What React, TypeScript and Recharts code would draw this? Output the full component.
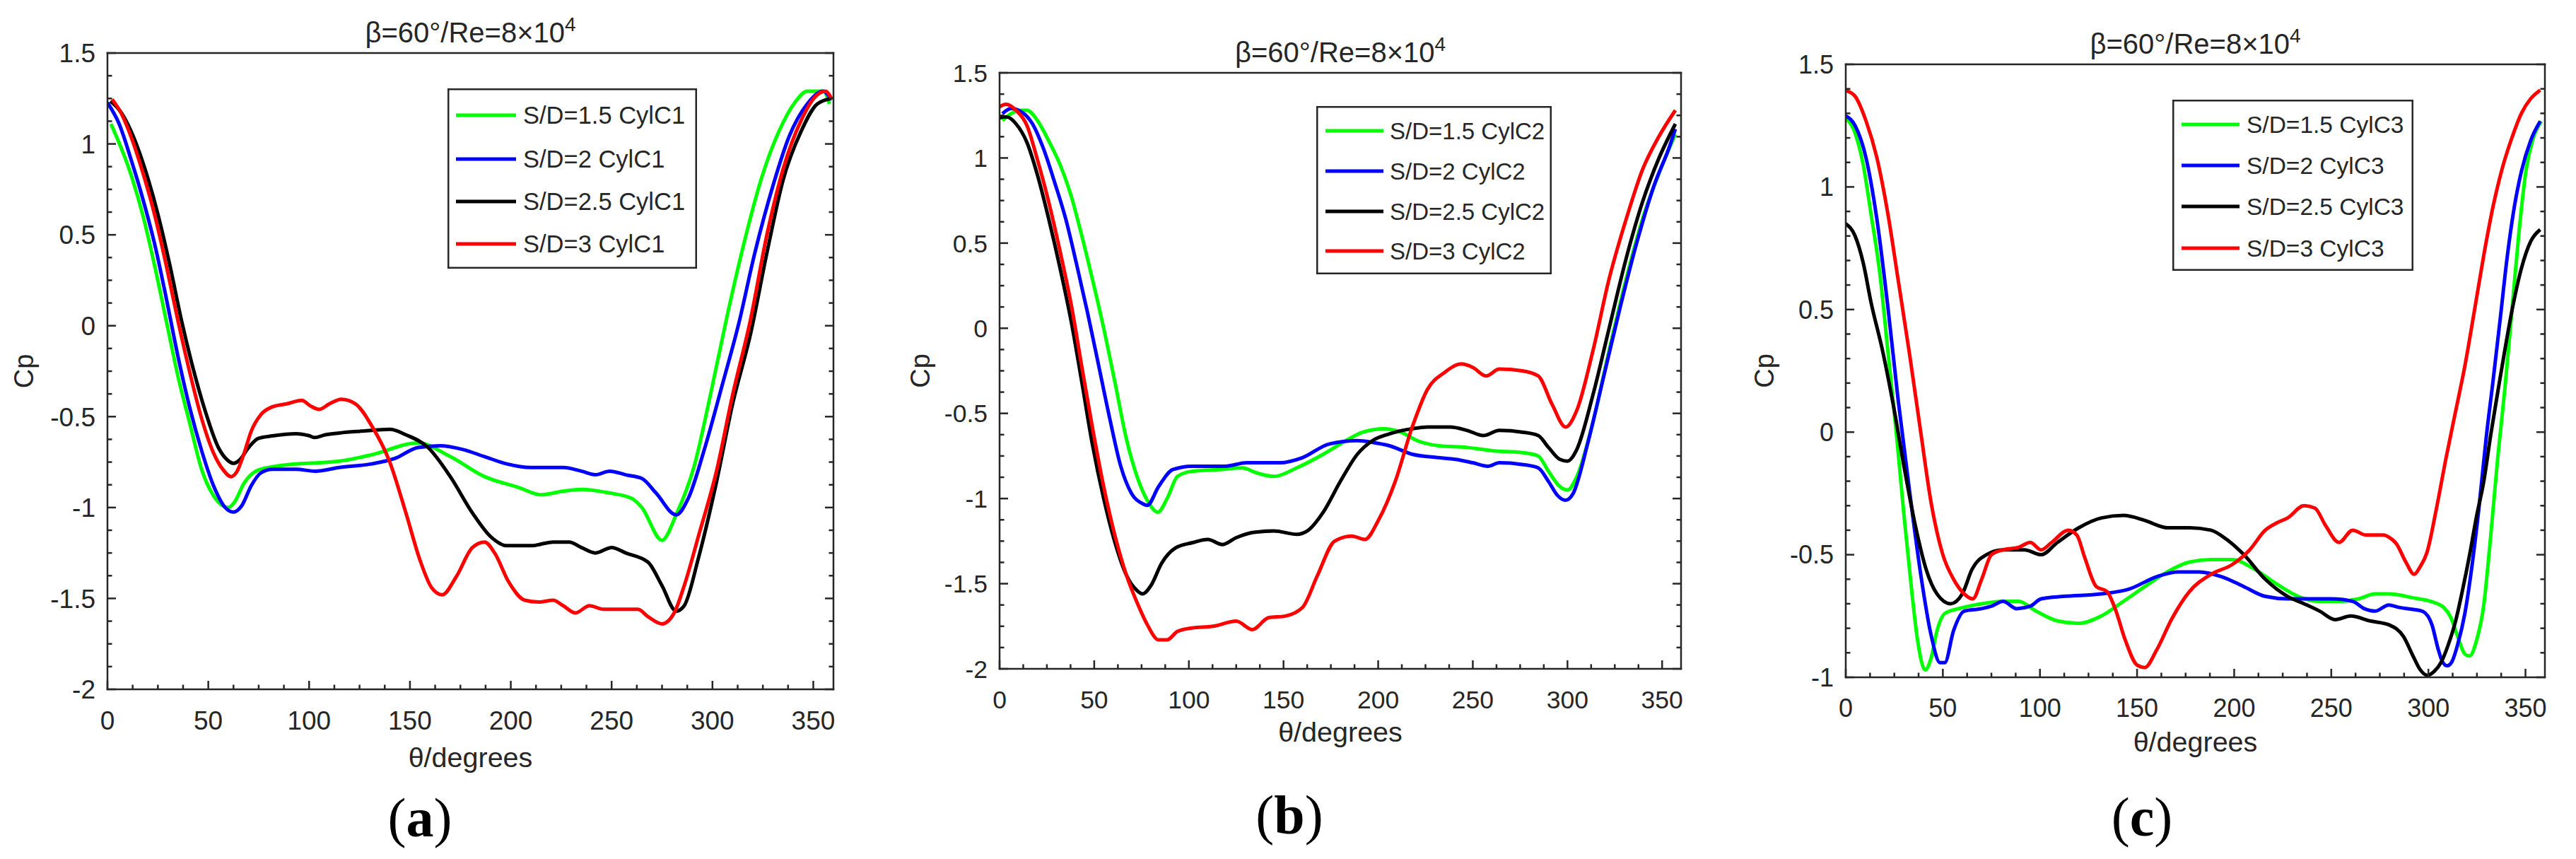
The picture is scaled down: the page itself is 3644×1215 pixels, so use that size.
import React from 'react';
import { LineChart, Line, XAxis, YAxis, Legend } from 'recharts';

type Pt = [number, number];

const FONT = '"Liberation Sans", Arial, Helvetica, sans-serif';
const SERIF = '"Liberation Serif", "Times New Roman", serif';
const AX = '#262626';
const COLORS = ['#00ff00', '#0000ff', '#000000', '#ff0000'];

// ---------- tick lists ----------
const X_TICKS = [0, 12.5, 25, 37.5, 50, 62.5, 75, 87.5, 100, 112.5, 125, 137.5, 150, 162.5, 175, 187.5, 200, 212.5, 225, 237.5, 250, 262.5, 275, 287.5, 300, 312.5, 325, 337.5, 350];
const X_MAJOR = [0, 50, 100, 150, 200, 250, 300, 350];
const Y_TICKS_AB = [-2, -1.875, -1.75, -1.625, -1.5, -1.375, -1.25, -1.125, -1, -0.875, -0.75, -0.625, -0.5, -0.375, -0.25, -0.125, 0, 0.125, 0.25, 0.375, 0.5, 0.625, 0.75, 0.875, 1, 1.125, 1.25, 1.375, 1.5];
const Y_MAJOR_AB = [-2, -1.5, -1, -0.5, 0, 0.5, 1, 1.5];
const Y_TICKS_C = [-1, -0.9, -0.8, -0.7, -0.6, -0.5, -0.4, -0.3, -0.2, -0.1, 0, 0.1, 0.2, 0.3, 0.4, 0.5, 0.6, 0.7, 0.8, 0.9, 1, 1.1, 1.2, 1.3, 1.4, 1.5];
const Y_MAJOR_C = [-1, -0.5, 0, 0.5, 1, 1.5];

// ---------- names ----------
const NAMES_A = ['S/D=1.5 CylC1', 'S/D=2 CylC1', 'S/D=2.5 CylC1', 'S/D=3 CylC1'];
const NAMES_B = ['S/D=1.5 CylC2', 'S/D=2 CylC2', 'S/D=2.5 CylC2', 'S/D=3 CylC2'];
const NAMES_C = ['S/D=1.5 CylC3', 'S/D=2 CylC3', 'S/D=2.5 CylC3', 'S/D=3 CylC3'];
const TITLE = 'β=60°/Re=8×10';
const TITLE_EXP = '4';

// ---------- panel (a) data: [theta, Cp] ----------
const A_SD15: Pt[] = [[1.75, 1.11], [11.7, 0.83], [17.5, 0.61], [23.4, 0.33], [29.2, 0.025], [35, -0.28], [40.9, -0.54], [46.7, -0.79], [52.6, -0.935], [57.2, -0.99], [60, -1.0], [63, -0.97], [67.8, -0.865], [73.6, -0.8], [81.8, -0.776], [93.5, -0.76], [105, -0.754], [115, -0.745], [131, -0.71], [154, -0.645], [170, -0.72], [187, -0.83], [204, -0.89], [215, -0.93], [226, -0.91], [235, -0.9], [249, -0.92], [260, -0.95], [265, -1.0], [275, -1.18], [282, -1.04], [291, -0.77], [299, -0.38], [307, 0.04], [316, 0.47], [324, 0.8], [333, 1.07], [341, 1.23], [347, 1.29], [355, 1.29], [358, 1.22]];
const A_SD2: Pt[] = [[0, 1.227], [5.8, 1.11], [11.7, 0.915], [17.5, 0.7], [23.4, 0.45], [29.2, 0.15], [35, -0.17], [40.9, -0.455], [46.7, -0.687], [52.6, -0.88], [58.4, -1.0], [62.5, -1.025], [66.6, -0.99], [71.3, -0.88], [76, -0.81], [81.8, -0.79], [93.5, -0.79], [103, -0.8], [115, -0.78], [131, -0.76], [142.5, -0.73], [154, -0.67], [165, -0.66], [176, -0.68], [187, -0.72], [198, -0.76], [210, -0.78], [226, -0.78], [235, -0.8], [242, -0.82], [249, -0.8], [257, -0.82], [265, -0.84], [272, -0.92], [282, -1.04], [288, -0.95], [296, -0.68], [305, -0.32], [313, 0.01], [321, 0.4], [330, 0.77], [338, 1.04], [347, 1.22], [355, 1.29], [358, 1.26]];
const A_SD25: Pt[] = [[1.5, 1.235], [7, 1.17], [11.7, 1.07], [17.5, 0.9], [25.1, 0.61], [31, 0.33], [36.8, 0.025], [42.6, -0.24], [48.5, -0.47], [55, -0.67], [59.6, -0.74], [62.5, -0.757], [65.4, -0.74], [70, -0.67], [74.8, -0.62], [81.8, -0.606], [93.5, -0.594], [100, -0.605], [102.8, -0.615], [108, -0.6], [115, -0.59], [126, -0.58], [140, -0.57], [148, -0.6], [159, -0.67], [170, -0.83], [181, -1.03], [190, -1.16], [198, -1.21], [210, -1.21], [221, -1.19], [229, -1.19], [235, -1.22], [242, -1.25], [250, -1.22], [257, -1.25], [268, -1.3], [275, -1.43], [282, -1.57], [286, -1.54], [293, -1.28], [302, -0.86], [310, -0.43], [319, -0.04], [327, 0.4], [335, 0.8], [344, 1.07], [352, 1.22], [359, 1.25]];
const A_SD3: Pt[] = [[2.3, 1.245], [7, 1.165], [11.7, 1.04], [17.5, 0.844], [23.4, 0.61], [29.2, 0.33], [35, 0.025], [40.9, -0.26], [46.7, -0.51], [52.6, -0.7], [57.2, -0.79], [61.3, -0.83], [64.3, -0.8], [67.8, -0.7], [71.3, -0.58], [76, -0.49], [81.8, -0.446], [88.8, -0.43], [96.4, -0.41], [100.5, -0.44], [105, -0.46], [110, -0.43], [116, -0.405], [123, -0.43], [131, -0.55], [140, -0.75], [148, -1.03], [155, -1.29], [160.7, -1.44], [166, -1.48], [173, -1.38], [181, -1.22], [187, -1.19], [192, -1.25], [199, -1.41], [207, -1.51], [214, -1.52], [221, -1.51], [226, -1.54], [232, -1.58], [239, -1.54], [246, -1.56], [254, -1.56], [263, -1.56], [268, -1.6], [275, -1.64], [281, -1.58], [286, -1.43], [293, -1.16], [302, -0.8], [310, -0.38], [319, 0.04], [327, 0.5], [335, 0.86], [344, 1.13], [351, 1.26], [356, 1.29], [359, 1.25]];

// ---------- panel (b) data ----------
const B_SD15: Pt[] = [[1.5, 1.22], [6, 1.26], [11.6, 1.28], [14.5, 1.28], [20, 1.22], [26, 1.1], [32, 0.96], [38, 0.77], [43.5, 0.54], [49, 0.29], [55, 0.0], [61, -0.32], [67, -0.65], [72.6, -0.87], [78, -1.01], [83.6, -1.08], [88.5, -1.0], [94, -0.87], [101.6, -0.84], [116, -0.83], [128, -0.82], [136, -0.85], [145, -0.87], [157, -0.82], [171, -0.74], [183, -0.66], [192, -0.61], [203, -0.59], [212, -0.61], [220.6, -0.66], [232, -0.69], [247, -0.7], [261, -0.72], [276, -0.73], [284.5, -0.75], [290, -0.84], [296, -0.93], [300, -0.95], [305, -0.87], [313.5, -0.55], [322, -0.13], [331, 0.29], [339.6, 0.64], [348, 0.9], [357, 1.14]];
const B_SD2: Pt[] = [[1.5, 1.26], [6, 1.29], [11.6, 1.27], [17.4, 1.2], [23, 1.06], [29, 0.86], [35, 0.64], [40.6, 0.38], [46.5, 0.09], [52, -0.2], [58, -0.52], [64, -0.81], [69.7, -0.97], [75.5, -1.03], [78, -1.04], [84, -0.93], [91.5, -0.83], [101.6, -0.81], [119, -0.81], [130.6, -0.79], [148, -0.79], [160, -0.76], [174, -0.68], [189, -0.66], [197, -0.67], [206, -0.69], [218, -0.74], [232, -0.76], [241, -0.77], [250, -0.79], [258, -0.81], [264, -0.79], [276, -0.8], [284.5, -0.82], [290, -0.9], [294.6, -0.98], [299, -1.01], [303, -0.97], [310.6, -0.68], [319, -0.29], [328, 0.13], [336.8, 0.51], [345.5, 0.83], [354, 1.07], [357, 1.17]];
const B_SD25: Pt[] = [[0, 1.235], [2, 1.24], [4, 1.24], [8.7, 1.2], [14.5, 1.09], [20, 0.9], [26, 0.64], [32, 0.35], [38, 0.03], [43.5, -0.32], [49, -0.68], [55, -1.0], [61, -1.26], [67, -1.45], [72.6, -1.54], [75.5, -1.56], [80, -1.51], [85.6, -1.38], [93, -1.29], [101.6, -1.26], [110, -1.24], [117.6, -1.27], [125, -1.23], [133.5, -1.2], [145, -1.19], [157, -1.21], [162.6, -1.19], [171, -1.08], [180, -0.9], [189, -0.74], [197, -0.66], [206, -0.62], [218, -0.59], [226, -0.58], [238, -0.58], [247, -0.6], [255.5, -0.63], [264, -0.6], [276, -0.61], [284.5, -0.63], [290, -0.7], [296, -0.77], [300, -0.78], [305, -0.71], [313.5, -0.39], [322, 0.0], [331, 0.41], [339.6, 0.74], [348, 0.99], [357, 1.2]];
const B_SD3: Pt[] = [[0, 1.3], [3.4, 1.315], [8.7, 1.28], [14.5, 1.19], [20, 0.99], [26, 0.74], [32, 0.45], [38, 0.13], [43.5, -0.23], [49, -0.58], [55, -0.93], [61, -1.22], [67, -1.45], [72.6, -1.61], [78, -1.74], [84, -1.83], [88.5, -1.83], [94, -1.78], [101.6, -1.76], [113, -1.75], [125, -1.72], [133.5, -1.77], [142, -1.7], [151, -1.69], [160, -1.64], [168, -1.45], [177, -1.25], [186, -1.22], [193, -1.24], [200, -1.13], [209, -0.9], [218, -0.58], [226, -0.36], [235, -0.26], [244, -0.21], [250, -0.23], [257, -0.28], [264, -0.24], [276, -0.25], [284.5, -0.28], [292, -0.45], [299, -0.58], [305, -0.48], [313.5, -0.13], [322, 0.29], [331, 0.64], [339.6, 0.93], [348, 1.12], [357, 1.28]];

// ---------- panel (c) data ----------
const C_SD15: Pt[] = [[0, 1.28], [4.8, 1.22], [9, 1.09], [13, 0.89], [17.5, 0.65], [21.7, 0.33], [26, 0.0], [30, -0.34], [34, -0.65], [37, -0.85], [40.9, -0.97], [44, -0.92], [47, -0.81], [51, -0.74], [58, -0.72], [70, -0.7], [81, -0.69], [89, -0.69], [98, -0.73], [109, -0.77], [120, -0.78], [131.6, -0.75], [143, -0.69], [154, -0.63], [165.5, -0.57], [177, -0.53], [188, -0.52], [199, -0.52], [210.6, -0.56], [222, -0.62], [233, -0.67], [244, -0.69], [255.7, -0.69], [264, -0.68], [272.6, -0.66], [280, -0.66], [292.2, -0.676], [301.9, -0.692], [307.9, -0.715], [311.5, -0.755], [315.1, -0.834], [318.8, -0.905], [321.2, -0.913], [324.8, -0.85], [328.5, -0.707], [332.1, -0.423], [335.7, -0.107], [339.4, 0.178], [343, 0.494], [346.6, 0.81], [350.2, 1.063], [353.9, 1.197], [358.2, 1.268]];
const C_SD2: Pt[] = [[0, 1.29], [4.8, 1.25], [10.4, 1.12], [16, 0.87], [21.7, 0.51], [27, 0.13], [33, -0.25], [38.6, -0.58], [44, -0.83], [48.5, -0.94], [51, -0.94], [55.5, -0.81], [61, -0.73], [70, -0.72], [75, -0.71], [81, -0.69], [88, -0.72], [95, -0.71], [100.6, -0.68], [112, -0.67], [131.6, -0.66], [146, -0.64], [160, -0.59], [171, -0.57], [182, -0.57], [193.7, -0.59], [205, -0.63], [216, -0.67], [227.5, -0.68], [238.8, -0.68], [250, -0.68], [261, -0.69], [267, -0.72], [272.6, -0.73], [279.6, -0.705], [284.9, -0.715], [292.2, -0.723], [297.1, -0.731], [301.9, -0.787], [304.9, -0.881], [307.3, -0.937], [309.7, -0.953], [312.1, -0.937], [315.1, -0.866], [318.8, -0.739], [322.4, -0.549], [326, -0.312], [329.7, -0.028], [333.3, 0.209], [337, 0.462], [340.6, 0.715], [344.3, 0.921], [347.9, 1.063], [352.7, 1.19], [357.6, 1.268]];
const C_SD25: Pt[] = [[0, 0.85], [4.8, 0.8], [9, 0.69], [13, 0.53], [19, 0.33], [24.5, 0.11], [30, -0.14], [35.8, -0.38], [41.4, -0.56], [47, -0.66], [54, -0.7], [60, -0.66], [65, -0.56], [72.4, -0.5], [81, -0.48], [92, -0.48], [100.6, -0.5], [109, -0.45], [120, -0.39], [131.6, -0.35], [143, -0.34], [154, -0.36], [165.5, -0.39], [177, -0.39], [188, -0.4], [196.5, -0.44], [205, -0.5], [216, -0.6], [227.5, -0.67], [236, -0.7], [244, -0.73], [252, -0.765], [260, -0.75], [270, -0.77], [280, -0.787], [287.2, -0.834], [292.1, -0.913], [295.7, -0.968], [299.4, -0.992], [303, -0.976], [306.7, -0.937], [310.3, -0.866], [314, -0.771], [317.6, -0.644], [321.2, -0.502], [324.8, -0.344], [328.5, -0.202], [332.1, -0.012], [335.7, 0.162], [339.4, 0.336], [343, 0.494], [347.9, 0.668], [352.7, 0.778], [357.6, 0.826]];
const C_SD3: Pt[] = [[0, 1.394], [4.8, 1.37], [10.4, 1.27], [16, 1.12], [21.7, 0.89], [27, 0.62], [33, 0.31], [38.6, 0.0], [44, -0.29], [50, -0.5], [55.5, -0.6], [61, -0.66], [65.4, -0.68], [70, -0.6], [75, -0.5], [81, -0.48], [89, -0.47], [95, -0.45], [100.6, -0.48], [106, -0.45], [114.7, -0.4], [119, -0.42], [123, -0.51], [129, -0.63], [134.5, -0.65], [138.7, -0.72], [144, -0.85], [150, -0.95], [154, -0.96], [160, -0.89], [168, -0.76], [177, -0.65], [188, -0.58], [199, -0.54], [208, -0.48], [216, -0.4], [222, -0.37], [227.5, -0.35], [236, -0.3], [241.6, -0.31], [247, -0.38], [254, -0.45], [261, -0.4], [268, -0.42], [276.8, -0.42], [280, -0.43], [283.5, -0.455], [288.4, -0.53], [292.7, -0.58], [295.7, -0.55], [299.3, -0.49], [304.2, -0.31], [309, -0.11], [313.9, 0.08], [318.8, 0.27], [323.6, 0.49], [328.5, 0.72], [333.3, 0.92], [338.2, 1.08], [343, 1.2], [347.9, 1.3], [352.7, 1.36], [357.6, 1.395]];

const toRows = (pts: Pt[]) => pts.map(([t, v]) => ({ t, v }));
const isIn = (v: number, arr: number[]) => arr.some((m) => Math.abs(m - v) < 1e-6);

interface Panel {
  left: number; width: number;
  pl: number; pr: number; pt: number; pb: number;
  yDomain: [number, number]; yTicks: number[]; yMajor: number[];
  names: string[]; data: Pt[][];
  tickFont: number; xTickBase: number; xLabelGap: number; cpX: number;
  legend: { x0: number; x1: number; y0: number; y1: number; rows: number[]; s0: number; s1: number; tx: number; font: number };
  tag: string; tagX: number; tagBase: number;
}

const PANELS: Panel[] = [
  {
    left: 0, width: 1250, pl: 152, pr: 1179, pt: 75, pb: 975,
    yDomain: [-2, 1.5], yTicks: Y_TICKS_AB, yMajor: Y_MAJOR_AB,
    names: NAMES_A, data: [A_SD15, A_SD2, A_SD25, A_SD3],
    tickFont: 37, xTickBase: 57, xLabelGap: 110, cpX: 34,
    legend: { x0: 633, x1: 986, y0: 125, y1: 380, rows: [163, 225, 285, 345], s0: 645, s1: 730, tx: 740, font: 34.5 },
    tag: 'a', tagX: 594, tagBase: 1183,
  },
  {
    left: 1250, width: 1220, pl: 1414, pr: 2378, pt: 103, pb: 946,
    yDomain: [-2, 1.5], yTicks: Y_TICKS_AB, yMajor: Y_MAJOR_AB,
    names: NAMES_B, data: [B_SD15, B_SD2, B_SD25, B_SD3],
    tickFont: 35.5, xTickBase: 56, xLabelGap: 103, cpX: 1302,
    legend: { x0: 1862, x1: 2195, y0: 150, y1: 388, rows: [185, 242, 299, 355], s0: 1875, s1: 1957, tx: 1966, font: 33 },
    tag: 'b', tagX: 1824, tagBase: 1179,
  },
  {
    left: 2470, width: 1174, pl: 2611, pr: 3600, pt: 91, pb: 958,
    yDomain: [-1, 1.5], yTicks: Y_TICKS_C, yMajor: Y_MAJOR_C,
    names: NAMES_C, data: [C_SD15, C_SD2, C_SD25, C_SD3],
    tickFont: 36, xTickBase: 56, xLabelGap: 105, cpX: 2496,
    legend: { x0: 3073, x1: 3414, y0: 141, y1: 383, rows: [176, 234, 292, 351], s0: 3086, s1: 3168, tx: 3178, font: 33.5 },
    tag: 'c', tagX: 3030, tagBase: 1182,
  },
];

const MAJ = 12;
const MIN = 6.5;
const AXW = 2.5;
const YW = 130;

function LegendBox({ p }: { p: Panel }) {
  const lg = p.legend;
  const w = lg.x1 - lg.x0;
  const h = lg.y1 - lg.y0;
  return (
    <svg width={w} height={h} style={{ display: 'block' }}>
      <rect x={AXW / 2} y={AXW / 2} width={w - AXW} height={h - AXW} fill="#ffffff" stroke={AX} strokeWidth={AXW} />
      {p.names.map((n, i) => {
        const ry = lg.rows[i] - lg.y0;
        return (
          <g key={n}>
            <line x1={lg.s0 - lg.x0} x2={lg.s1 - lg.x0} y1={ry} y2={ry} stroke={COLORS[i]} strokeWidth={5} />
            <text x={lg.tx - lg.x0} y={ry + 0.358 * lg.font} fontSize={lg.font} fontFamily={FONT} fill={AX}>{n}</text>
          </g>
        );
      })}
    </svg>
  );
}

function PanelChart({ p }: { p: Panel }) {
  const plotLeftRel = p.pl - p.left;
  const plotRightRel = p.pr - p.left;
  const margin = {
    top: p.pt - 1,
    left: plotLeftRel - YW,
    right: p.width - plotRightRel - 1,
    bottom: 1215 - p.pb - p.xLabelGap,
  };
  const axisLine = { stroke: AX, strokeWidth: AXW, strokeLinecap: 'square' as const };

  const bottomTick = (props: any) => {
    const { x, y, payload } = props;
    const v = payload.value;
    const major = isIn(v, X_MAJOR);
    return (
      <g>
        <line x1={x} x2={x} y1={y} y2={y - (major ? MAJ : MIN)} stroke={AX} strokeWidth={AXW} />
        {major && (
          <text x={x} y={y + p.xTickBase} textAnchor="middle" fontSize={p.tickFont} fontFamily={FONT} fill={AX}>{String(v)}</text>
        )}
      </g>
    );
  };
  const topTick = (props: any) => {
    const { x, y, payload } = props;
    const major = isIn(payload.value, X_MAJOR);
    return <line x1={x} x2={x} y1={y} y2={y + (major ? MAJ : MIN)} stroke={AX} strokeWidth={AXW} />;
  };
  const leftTick = (props: any) => {
    const { x, y, payload } = props;
    const v = payload.value;
    const major = isIn(v, p.yMajor);
    return (
      <g>
        <line x1={x} x2={x + (major ? MAJ : MIN)} y1={y} y2={y} stroke={AX} strokeWidth={AXW} />
        {major && (
          <text x={x - 17} y={y + 0.358 * p.tickFont} textAnchor="end" fontSize={p.tickFont} fontFamily={FONT} fill={AX}>{String(v)}</text>
        )}
      </g>
    );
  };
  const rightTick = (props: any) => {
    const { x, y, payload } = props;
    const major = isIn(payload.value, p.yMajor);
    return <line x1={x} x2={x - (major ? MAJ : MIN)} y1={y} y2={y} stroke={AX} strokeWidth={AXW} />;
  };
  const titleContent = (lp: any) => {
    const vb = lp && lp.viewBox ? lp.viewBox : { x: plotLeftRel, y: p.pt - 1, width: plotRightRel - plotLeftRel, height: 1 };
    const cx = vb.x + vb.width / 2;
    const base = vb.y + (vb.height || 0) - 15;
    return (
      <text x={cx} y={base} textAnchor="middle" fontSize={40} fontFamily={FONT} fill={AX}>
        {TITLE}
        <tspan dy={-16} fontSize={28}>{TITLE_EXP}</tspan>
      </text>
    );
  };

  const lg = p.legend;

  return (
    <div style={{ position: 'absolute', left: p.left, top: 0, width: p.width, height: 1215 }}>
      <LineChart width={p.width} height={1215} margin={margin}>
        <XAxis
          xAxisId="b" dataKey="t" type="number" domain={[0, 360]} allowDataOverflow
          ticks={X_TICKS} interval={0} tickSize={0} tickMargin={0} tickLine={false}
          tick={bottomTick} axisLine={axisLine} height={p.xLabelGap}
          label={{ value: 'θ/degrees', position: 'insideBottom', offset: 0, fontSize: 39.5, fontFamily: FONT, fill: AX }}
        />
        <XAxis
          xAxisId="top" orientation="top" type="number" domain={[0, 360]} allowDataOverflow
          ticks={X_TICKS} interval={0} tickSize={0} tickMargin={0} tickLine={false}
          tick={topTick} axisLine={axisLine} height={1}
          label={{ position: 'top', content: titleContent }}
        />
        <YAxis
          yAxisId="l" type="number" domain={p.yDomain} allowDataOverflow
          ticks={p.yTicks} interval={0} tickSize={0} tickMargin={0} tickLine={false}
          tick={leftTick} axisLine={axisLine} width={YW}
          label={{ value: 'Cp', angle: -90, position: 'insideLeft', offset: p.cpX - p.pl + YW, fontSize: 38, fontFamily: FONT, fill: AX, style: { textAnchor: 'middle' } }}
        />
        <YAxis
          yAxisId="r" orientation="right" type="number" domain={p.yDomain} allowDataOverflow
          ticks={p.yTicks} interval={0} tickSize={0} tickMargin={0} tickLine={false}
          tick={rightTick} axisLine={axisLine} width={1}
        />
        {p.data.map((d, i) => (
          <Line
            key={p.names[i]}
            xAxisId="b" yAxisId="l"
            data={toRows(d)} dataKey="v" name={p.names[i]}
            type="monotone" stroke={COLORS[i]} strokeWidth={5}
            dot={false} activeDot={false} isAnimationActive={false}
          />
        ))}
        <Legend
          layout="vertical" align="center" verticalAlign="middle"
          wrapperStyle={{ left: lg.x0 - p.left, top: lg.y0, width: lg.x1 - lg.x0, height: lg.y1 - lg.y0, margin: 0, padding: 0, lineHeight: 0 }}
          content={() => <LegendBox p={p} />}
        />
      </LineChart>
    </div>
  );
}

export default function App() {
  return (
    <div style={{ position: 'absolute', left: 0, top: 0, width: 3644, height: 1215, background: '#ffffff', overflow: 'hidden' }}>
      {PANELS.map((p) => (
        <PanelChart key={p.tag} p={p} />
      ))}
      <svg width={3644} height={1215} style={{ position: 'absolute', left: 0, top: 0, pointerEvents: 'none' }}>
        {PANELS.map((p) => (
          <text key={p.tag} x={p.tagX} y={p.tagBase} textAnchor="middle" fontSize={78} fontFamily={SERIF} fill="#000000">
            (<tspan fontWeight="bold">{p.tag}</tspan>)
          </text>
        ))}
      </svg>
    </div>
  );
}
